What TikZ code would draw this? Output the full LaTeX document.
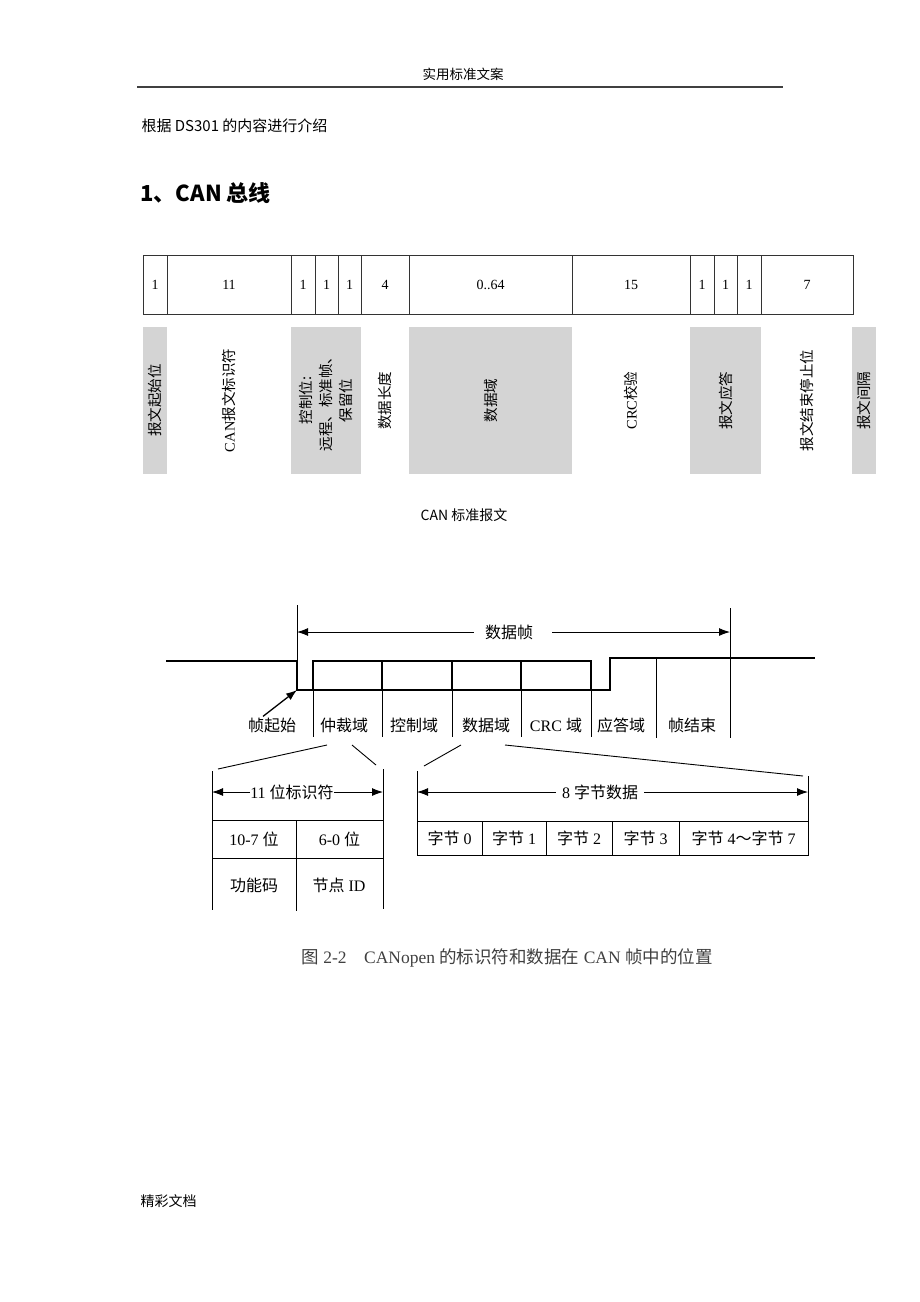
\documentclass[tikz,border=0pt]{standalone}
\usepackage{fontspec}
\setmainfont{Liberation Serif}
\newfontfamily\cjk{Noto Sans CJK SC}
\newcommand\zh[1]{{\cjk #1}}
\usepackage{tikz}
\usetikzlibrary{positioning}
\usetikzlibrary{calc}
\usetikzlibrary{arrows.meta}
\definecolor{bandgray}{RGB}{212,212,212}
\tikzset{>={Latex[length=11pt,width=8pt]}}
\tikzset{bits/.style={draw=black!80, line width=0.8pt, minimum height=59pt, inner sep=0pt, outer sep=0pt, font=\fontsize{14}{16}\selectfont}}
\tikzset{band/.style={minimum height=147pt, inner sep=0pt, outer sep=0pt}}
\tikzset{shade/.style={band, fill=bandgray}}
\tikzset{vtext/.style={rotate=90, align=center, font=\cjk\fontsize{14.5}{20}\selectfont}}
\tikzset{field/.style={draw, line width=2.6pt, minimum height=29pt, inner sep=0pt, outer sep=0pt}}
\tikzset{sig/.style={line width=2.6pt}}
\tikzset{thin line/.style={line width=0.9pt}}
\tikzset{lbl/.style={font=\fontsize{16}{18}\selectfont, inner sep=1pt}}
\tikzset{cell/.style={draw, line width=0.9pt, inner sep=0pt, outer sep=0pt, font=\fontsize{16}{18}\selectfont}}

\begin{document}
\begin{tikzpicture}[x=1pt,y=-1pt]
    \useasboundingbox (0,0) rectangle (920,1302);

    % Page header and text
    \node [font=\cjk\fontsize{13.5}{16}\selectfont] (hdr) at (463,74) {实用标准文案};
    \coordinate (hdrL) at (137,87);
    \coordinate (hdrR) at (783,87);
    \draw [line width=1.2pt,black!75] (hdrL) -- (hdrR);
    \node [anchor=west,font=\cjk\fontsize{15}{17}\selectfont] (intro) at (138,126) {根据 DS301 的内容进行介绍};
    \node [anchor=west,font=\cjk\bfseries\fontsize{22}{26}\selectfont] (sec) at (137,193) {1、CAN 总线};

    % Bit widths of the standard frame
    \node [bits, minimum width=24pt, anchor=north west] (c1) at (143,255) {1};
    \node [bits, minimum width=124pt, right=0pt of c1] (c2) {11};
    \node [bits, minimum width=24pt, right=0pt of c2] (c3) {1};
    \node [bits, minimum width=23pt, right=0pt of c3] (c4) {1};
    \node [bits, minimum width=23pt, right=0pt of c4] (c5) {1};
    \node [bits, minimum width=48pt, right=0pt of c5] (c6) {4};
    \node [bits, minimum width=163pt, right=0pt of c6] (c7) {0..64};
    \node [bits, minimum width=118pt, right=0pt of c7] (c8) {15};
    \node [bits, minimum width=24pt, right=0pt of c8] (c9) {1};
    \node [bits, minimum width=23pt, right=0pt of c9] (c10) {1};
    \node [bits, minimum width=24pt, right=0pt of c10] (c11) {1};
    \node [bits, minimum width=92pt, right=0pt of c11] (c12) {7};

    % Field names below
    \node [shade, minimum width=24pt, anchor=north west] (l1) at (143,327) {};
    \node [band, minimum width=124pt, right=0pt of l1] (l2) {};
    \node [shade, minimum width=70pt, right=0pt of l2] (l3) {};
    \node [band, minimum width=48pt, right=0pt of l3] (l4) {};
    \node [shade, minimum width=163pt, right=0pt of l4] (l5) {};
    \node [band, minimum width=118pt, right=0pt of l5] (l6) {};
    \node [shade, minimum width=71pt, right=0pt of l6] (l7) {};
    \node [band, minimum width=91pt, right=0pt of l7] (l8) {};
    \node [shade, minimum width=24pt, right=0pt of l8] (l9) {};

    \node [vtext] (t1) at (l1) {报文起始位};
    \node [vtext] (t2) at (l2) {\textrm{CAN}报文标识符};
    \node [vtext] (t3) at (l3) {控制位:\\远程、标准帧、\\保留位};
    \node [vtext] (t4) at (l4) {数据长度};
    \node [vtext] (t5) at (l5) {数据域};
    \node [vtext] (t6) at (l6) {\textrm{CRC}校验};
    \node [vtext] (t7) at (l7) {报文应答};
    \node [vtext] (t8) at (l8) {报文结束停止位};
    \node [vtext] (t9) at (l9) {报文间隔};

    \node [font=\cjk\fontsize{14}{16}\selectfont] (cap1) at (464,515) {CAN 标准报文};

    % Frame signal
    \node [field, minimum width=69pt, anchor=north west] (arb) at (313,661) {};
    \node [field, minimum width=70pt, right=0pt of arb] (ctl) {};
    \node [field, minimum width=69pt, right=0pt of ctl] (dat) {};
    \node [field, minimum width=70pt, right=0pt of dat] (crc) {};

    \coordinate (idleL) at (166,661);
    \coordinate (sofTop) at (297,605);
    \coordinate (sofHi) at (297,661);
    \coordinate (sof) at (297,690);
    \coordinate (ackLo) at (610,690);
    \coordinate (ackHi) at (610,658);
    \coordinate (ackEnd) at (656,658);
    \coordinate (idleR) at (815,658);
    \coordinate (eofTop) at (730,608);
    \coordinate (eofBot) at (730,738);

    \draw [sig] (idleL) -- (sofHi) -- (sof) -- (arb.south west);
    \draw [sig] (crc.south east) -- (ackLo) -- (ackHi) -- (idleR);
    \draw [thin line] (sofTop) -- (sofHi);
    \draw [thin line] (eofTop) -- (eofBot);
    \draw [thin line] (ackEnd) -- (ackEnd |- eofBot);
    \draw [thin line] (arb.south west) -- ++(0,47);
    \draw [thin line] (ctl.south west) -- ++(0,47);
    \draw [thin line] (dat.south west) -- ++(0,47);
    \draw [thin line] (crc.south west) -- ++(0,47);
    \draw [thin line] (crc.south east) -- ++(0,47);

    % Frame length
    \node [lbl] (frame) at (509,632) {\zh{数据帧}};
    \draw [thin line,->] ([xshift=-10pt]frame.west) -- (frame.west -| sofTop);
    \draw [thin line,->] ([xshift=18pt]frame.east) -- (frame.east -| eofTop);

    % Field labels
    \node [lbl] (sofl) at (272,725) {\zh{帧起始}};
    \node [lbl] (arbl) at (344,725) {\zh{仲裁域}};
    \node [lbl] (ctll) at (414,725) {\zh{控制域}};
    \node [lbl] (datl) at (486,725) {\zh{数据域}};
    \node [lbl] (crcl) at (556,725) {CRC \zh{域}};
    \node [lbl] (ackl) at (621,725) {\zh{应答域}};
    \node [lbl] (eofl) at (692,725) {\zh{帧结束}};
    \draw [line width=1.3pt,->] ([xshift=-9pt]sofl.north) -- (sof);

    % Identifier detail
    \coordinate (idTL) at (212,771);
    \coordinate (idBL) at (212,910);
    \coordinate (idTR) at (383,769);
    \coordinate (idBR) at (383,909);
    \draw [thin line] (idTL) -- (idBL);
    \draw [thin line] (idTR) -- (idBR);
    \node [lbl, inner sep=0pt] (idw) at (292,792) {11 \zh{位标识符}};
    \draw [thin line,->] (idw.west) -- (idw.west -| idTL);
    \draw [thin line,->] (idw.east) -- (idw.east -| idTR);
    \node [cell, minimum width=84pt, minimum height=38pt, anchor=north west] (hi) at (212,820) {10-7 \zh{位}};
    \node [cell, minimum width=87pt, minimum height=38pt, right=0pt of hi] (lo) {6-0 \zh{位}};
    \draw [thin line] (hi.south east) -- ++(0,53);
    \node [lbl] (fc) at (254,885) {\zh{功能码}};
    \node [lbl] (nid) at (339,885) {\zh{节点} ID};

    % Data detail
    \coordinate (byTL) at (417,771);
    \coordinate (byTR) at (808,776);
    \node [cell, minimum width=65pt, minimum height=34pt, anchor=north west] (b0) at (417,821) {\zh{字节} 0};
    \node [cell, minimum width=64pt, minimum height=34pt, right=0pt of b0] (b1) {\zh{字节} 1};
    \node [cell, minimum width=66pt, minimum height=34pt, right=0pt of b1] (b2) {\zh{字节} 2};
    \node [cell, minimum width=67pt, minimum height=34pt, right=0pt of b2] (b3) {\zh{字节} 3};
    \node [cell, minimum width=129pt, minimum height=34pt, right=0pt of b3] (b4) {\zh{字节} 4\zh{～字节} 7};
    \draw [thin line] (byTL) -- (b0.north west);
    \draw [thin line] (byTR) -- (b4.north east);
    \node [lbl, inner xsep=6pt] (bytes) at (600,792) {8 \zh{字节数据}};
    \draw [thin line,->] (bytes.west) -- (bytes.west -| byTL);
    \draw [thin line,->] (bytes.east) -- (bytes.east -| byTR);

    % Zoom lines
    \coordinate (arbA) at (327,745);
    \coordinate (arbB) at (352,745);
    \coordinate (datA) at (461,745);
    \coordinate (datB) at (505,745);
    \draw [thin line] (arbA) -- ($(idTL)+(6,-2)$);
    \draw [thin line] (arbB) -- ($(idTR)+(-7,-4)$);
    \draw [thin line] (datA) -- ($(byTL)+(7,-5)$);
    \draw [thin line] (datB) -- ($(byTR)+(-5,0)$);

    % Caption and footer
    \node [font=\fontsize{17.5}{20}\selectfont,text=black!75] (cap2) at (507,958) {\zh{图} 2-2\quad CANopen \zh{的标识符和数据在} CAN \zh{帧中的位置}};
    \node [anchor=west,font=\cjk\fontsize{14}{16}\selectfont] (foot) at (137,1201) {精彩文档};

\end{tikzpicture}
\end{document}
